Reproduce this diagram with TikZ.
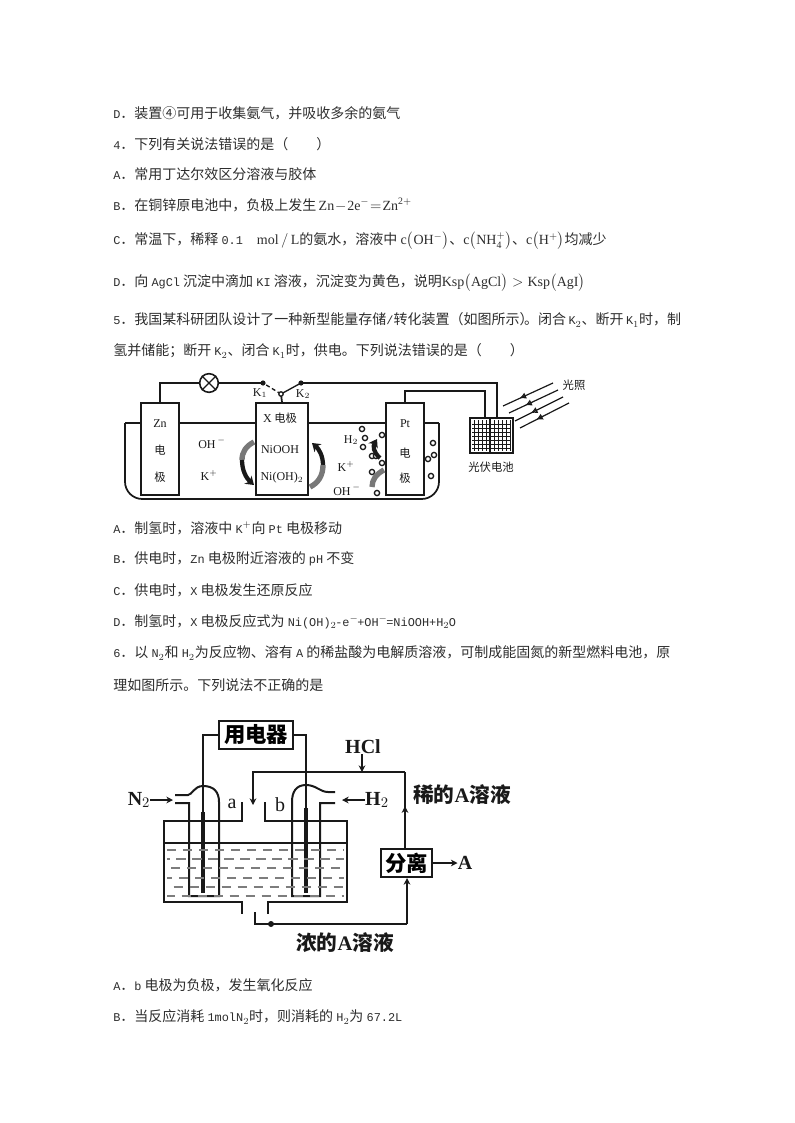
\documentclass[tikz,border=0pt]{standalone}
\usepackage{amsmath}
\usepackage{fontspec}
\setmainfont{Liberation Serif}
\newfontfamily\cjk{Noto Sans CJK SC}
\newfontfamily\lat{Liberation Mono}[Scale=0.85]
\definecolor{InkColor}{RGB}{25,25,25}
\definecolor{TextColor}{RGB}{45,45,45}
\definecolor{DashColor}{RGB}{125,125,125}
\definecolor{SwirlColor}{RGB}{120,120,120}
\usetikzlibrary{positioning, arrows.meta, decorations.markings}
\tikzstyle{textline} = [anchor=west, inner sep=0pt, text=TextColor, font=\cjk\fontsize{10.5}{12}\selectfont]
\tikzstyle{wire} = [line width=1.3pt, InkColor]
\tikzstyle{thinwire} = [line width=1pt, InkColor]
\tikzstyle{electrode} = [rectangle, draw=InkColor, line width=1.6pt, fill=white, minimum width=28.5pt, minimum height=68.5pt, inner sep=0pt]
\tikzstyle{smalltext} = [inner sep=0pt, text=InkColor, font=\fontsize{9}{10}\selectfont]
\tikzstyle{smallcjk} = [inner sep=0pt, text=InkColor, font=\cjk\fontsize{8.5}{10}\selectfont]
\tikzstyle{bubble} = [line width=1pt, InkColor, fill=white]
\tikzstyle{lightray} = [line width=0.9pt, InkColor, postaction={decorate}, decoration={markings, mark=at position 0.67 with {\arrow{Latex[open,length=5pt,width=5pt]}}}]
\tikzstyle{swirlblack} = [line width=3.2pt, InkColor, -{Stealth[length=6pt,width=8pt]}]
\tikzstyle{swirlgray} = [line width=4pt, SwirlColor]
\tikzstyle{heavywire} = [line width=1.5pt, InkColor]
\tikzstyle{flowarrow} = [line width=1.5pt, InkColor, -{Stealth[length=5pt,width=5pt]}]
\tikzstyle{midarrow} = [line width=1.5pt, InkColor, postaction={decorate}, decoration={markings, mark=at position 0.55 with {\arrow{Stealth[length=5pt,width=5pt]}}}]
\tikzstyle{boldcjk} = [inner sep=0pt, text=InkColor, font=\cjk\bfseries\fontsize{15.5}{17}\selectfont]
\tikzstyle{boldlat} = [inner sep=0pt, text=InkColor, font=\bfseries\fontsize{15}{17}\selectfont]
\tikzstyle{devbox} = [rectangle, draw=InkColor, line width=1.5pt, fill=white, inner sep=0pt, font=\cjk\bfseries\fontsize{16}{18}\selectfont]

\begin{document}
\begin{tikzpicture}[x=0.75pt, y=-0.75pt]
    \useasboundingbox (0,0) rectangle (794,1123);

    % Question text
    \node[textline] (lineA) at (113,113) {{\lat D}．装置④可用于收集氨气，并吸收多余的氨气};
    \node[textline] (lineB) at (113,144) {{\lat 4}．下列有关说法错误的是（\hspace{2em}）};
    \node[textline] (lineC) at (113,174) {{\lat A}．常用丁达尔效区分溶液与胶体};
    \node[textline, execute at begin node={\medmuskip=1mu\thickmuskip=1.5mu\scriptspace=0pt}] (lineD) at (113,205) {{\lat B}．在铜锌原电池中，负极上发生\,$\mathrm{Zn-2e^-=Zn^{2+}}$};
    \node[textline] (lineE) at (113,241) {{\lat C}．常温下，稀释 {\lat 0.1}\hspace{1em}$\mathrm{mol\,/\,L}$的氨水，溶液中 $\mathrm{c}\bigl(\mathrm{OH^-}\bigr)$、$\mathrm{c}\bigl(\mathrm{NH_4^+}\bigr)$、$\mathrm{c}\bigl(\mathrm{H^+}\bigr)$均减少};
    \node[textline] (lineF) at (113,283) {{\lat D}．向 {\lat AgCl} 沉淀中滴加 {\lat KI} 溶液，沉淀变为黄色，说明$\mathrm{Ksp}\bigl(\mathrm{AgCl}\bigr)>\mathrm{Ksp}\bigl(\mathrm{AgI}\bigr)$};
    \node[textline] (lineG) at (113,320) {{\lat 5}．我国某科研团队设计了一种新型能量存储{\lat /}转化装置（如图所示）\kern-7pt。闭合\,{\lat K}$_2$、断开\,{\lat K}$_1$时，制};
    \node[textline] (lineH) at (113,351) {氢并储能；断开 {\lat K}$_2$、闭合 {\lat K}$_1$时，供电。下列说法错误的是（\hspace{2em}）};
    \node[textline] (lineI) at (113,528) {{\lat A}．制氢时，溶液中 {\lat K}$^+$向 {\lat Pt} 电极移动};
    \node[textline] (lineJ) at (113,559) {{\lat B}．供电时，{\lat Zn} 电极附近溶液的 {\lat pH} 不变};
    \node[textline] (lineK) at (113,590) {{\lat C}．供电时，{\lat X} 电极发生还原反应};
    \node[textline] (lineL) at (113,622) {{\lat D}．制氢时，{\lat X} 电极反应式为 {\lat Ni(OH)}$_2$\kern-1pt{\lat -e}$^-$\kern-1pt{\lat +OH}$^-$\kern-1pt{\lat =NiOOH+H}$_2$\kern-0.5pt{\lat O}};
    \node[textline] (lineM) at (113,653) {{\lat 6}．以 {\lat N}$_2$和 {\lat H}$_2$为反应物、溶有 {\lat A} 的稀盐酸为电解质溶液，可制成能固氮的新型燃料电池，原};
    \node[textline] (lineN) at (113,685) {理如图所示。下列说法不正确的是};
    \node[textline] (lineO) at (113,985) {{\lat A}．{\lat b} 电极为负极，发生氧化反应};
    \node[textline] (lineP) at (113,1017) {{\lat B}．当反应消耗 {\lat 1molN}$_2$时，则消耗的 {\lat H}$_2$为 {\lat 67.2L}};

    % Storage cell: tank
    \draw[wire, rounded corners=13pt] (125,423) -- (125,499) -- (439,499) -- (439,423);
    \draw[thinwire] (125,423) -- (141,423);
    \draw[thinwire] (179,423) -- (256,423);
    \draw[thinwire] (308,423) -- (386,423);
    \draw[thinwire] (423,423) -- (439,423);

    % Electrodes
    \node[electrode] (zn) at (160,449) {};
    \node[electrode, minimum width=39pt] (xe) at (282,449) {};
    \node[electrode] (pt) at (405,449) {};
    \node[smalltext] (znname) at (160,424) {Zn};
    \node[smallcjk] (zndian) at (160,450) {电};
    \node[smallcjk] (znji) at (160,477) {极};
    \node[smallcjk] (xname) at (280,418) {{\fontsize{9}{10}\selectfont\rmfamily X} 电极};
    \node[smalltext] (niooh) at (280,450) {NiOOH};
    \node[smalltext] (niohtwo) at (282,478) {Ni(OH)$_2$};
    \node[smalltext] (ptname) at (405,424) {Pt};
    \node[smallcjk] (ptdian) at (405,453) {电};
    \node[smallcjk] (ptji) at (405,478) {极};
    \node[smalltext] (ohleft) at (212,443) {OH$^{\,-}$};
    \node[smalltext] (kleft) at (209,475) {K$^+$};
    \node[smalltext] (htwo) at (351,440) {H$_2$};
    \node[smalltext] (kright) at (346,466) {K$^+$};
    \node[smalltext] (ohright) at (347,490) {OH$^{\,-}$};

    % Circuit with lamp and switch
    \node[circle, draw=InkColor, line width=1.2pt, minimum size=14pt, inner sep=0pt, fill=white] (lamp) at (209,383) {};
    \draw[thinwire] (lamp.north west) -- (lamp.south east);
    \draw[thinwire] (lamp.north east) -- (lamp.south west);
    \coordinate (kone) at (263,383);
    \coordinate (ktwo) at (301,383);
    \coordinate (pivot) at (281,394);
    \coordinate (pvright) at (497,420);
    \coordinate (pvleft) at (485,420);
    \coordinate (ptup) at (405,391);
    \draw[wire] (zn.north) |- (lamp.west);
    \draw[wire] (lamp.east) -- (kone);
    \draw[wire] (ktwo) -| (pvright);
    \draw[wire] (pt.north) -- (ptup) -| (pvleft);
    \draw[wire] (pivot) -- (xe.north);
    \draw[thinwire] (pivot) -- (ktwo);
    \draw[thinwire, dashed, dash pattern=on 3pt off 2pt] (pivot) -- (kone);
    \fill[InkColor] (kone) circle (2.6);
    \fill[InkColor] (ktwo) circle (2.6);
    \draw[thinwire, fill=white] (pivot) circle (2.2);
    \node[smalltext] (konelabel) at (260,393) {K$_1$};
    \node[smalltext] (ktwolabel) at (303,394) {K$_2$};

    % Photovoltaic panel
    \node[rectangle, draw=InkColor, line width=1.4pt, minimum width=32pt, minimum height=26pt, inner sep=0pt, fill=white] (panel) at (491.5,435.5) {};
    \foreach \gx in {474,478,482,486,494,498,502,506,510}
        \draw[line width=0.5pt, InkColor] (\gx,420) -- (\gx,451);
    \foreach \gy in {424,428,432,436,440,444,448}
        \draw[line width=0.6pt, InkColor] (472,\gy) -- (511,\gy);
    \draw[thinwire] (490,419) -- (490,452);
    \node[smallcjk] (pvlabel) at (491,467) {光伏电池};
    \node[smallcjk] (lightlabel) at (574,385) {光照};
    \foreach \sx/\sy/\ex/\ey in {553/383/503/406, 558/390/509/413, 563/397/515/421, 569/403/520/428}
        \draw[lightray] (\sx,\sy) -- (\ex,\ey);

    % Bubbles near Pt
    \foreach \bx/\by in {362/429, 365/438, 363/447, 382/435, 372/456, 376/456, 382/463, 372/472, 377/493, 433/443, 434/455, 428/459, 431/476}
        \draw[bubble] (\bx,\by) circle (2.6);

    % Swirl arrows
    \draw[swirlgray] (254,442) .. controls (246,446) and (242,452) .. (242,460);
    \draw[swirlblack] (242,460) .. controls (242,470) and (246,478) .. (254,485);
    \draw[swirlblack] (323,465) .. controls (323,456) and (319,449) .. (312,443);
    \draw[swirlgray] (323,465) .. controls (323,476) and (318,483) .. (310,487);
    \draw[swirlblack] (380,458) .. controls (373,452) and (373,446) .. (377,439);
    \draw[swirlgray] (384,470) .. controls (376,474) and (372,480) .. (372,487);

    % Fuel cell: load and wires
    \node[devbox, minimum width=55pt, minimum height=21pt] (load) at (256,735) {用电器};
    \node[devbox, minimum width=38pt, minimum height=21pt] (sep) at (406.5,863) {分离};
    \coordinate (leftrod) at (203,893);
    \coordinate (rightrod) at (306,893);
    \draw[heavywire] (load.west) -| (leftrod);
    \draw[heavywire] (load.east) -| (rightrod);
    \draw[line width=2.8pt, InkColor] (203,812) -- (leftrod);
    \draw[line width=2.8pt, InkColor] (306,808) -- (rightrod);

    % Left gas tube
    \draw[heavywire] (175,795) -- (188,795) .. controls (192,795) and (194,786) .. (203,786) .. controls (214,786) and (219,792) .. (219,802) -- (219,896) -- (189,896) -- (189,803) -- (175,803);
    % Right gas tube
    \draw[heavywire] (335,792) -- (328,792) .. controls (320,792) and (316,785) .. (306,785) .. controls (296,785) and (292,792) .. (292,802) -- (292,896) -- (320,896) -- (320,803) -- (335,803);

    % Tank
    \draw[heavywire] (242,802) -- (242,821) -- (164,821) -- (164,902) -- (242,902) -- (242,914);
    \draw[heavywire] (265,802) -- (265,821) -- (347,821) -- (347,902) -- (268,902) -- (268,914);
    \draw[heavywire] (164,843) -- (347,843);
    \foreach \dy/\dp in {850/0, 859/5, 868/9, 878/3, 887/7, 896/1}
        \draw[line width=1pt, DashColor, dash pattern=on 7pt off 5pt, dash phase=\dp pt] (167,\dy) -- (344,\dy);
    \node[inner sep=0pt, text=InkColor, font=\fontsize{15}{17}\selectfont] (alabel) at (232,804) {a};
    \node[inner sep=0pt, text=InkColor, font=\fontsize{15}{17}\selectfont] (blabel) at (280,805) {b};

    % Flow labels
    \node[boldlat] (ntwo) at (139,800) {N$_2$};
    \node[boldlat] (htwoin) at (377,800) {H$_2$};
    \node[boldlat] (hcl) at (363,747) {HCl};
    \node[boldlat] (aout) at (465,863) {A};
    \node[boldcjk] (dilute) at (462,795) {稀的{\rmfamily A}溶液};
    \node[boldcjk] (dense) at (345,943) {浓的{\rmfamily A}溶液};

    % Flow arrows
    \coordinate (pipetl) at (253,772);
    \coordinate (pipetr) at (405,772);
    \coordinate (pipein) at (253,805);
    \coordinate (hclin) at (362,772);
    \coordinate (bottomr) at (407,924);
    \coordinate (bottoml) at (255,924);
    \coordinate (bottomup) at (255,912);
    \draw[flowarrow] (ntwo.east) -- (173,800);
    \draw[flowarrow] (htwoin.west) -- (342,800);
    \draw[flowarrow] (hcl.south) ++(-1,0) -- (hclin);
    \draw[flowarrow] (pipetr) -- (pipetl) -- (pipein);
    \draw[midarrow] (sep.north -| pipetr) -- (pipetr);
    \draw[flowarrow] (sep.east) -- (aout.west);
    \draw[flowarrow] (bottomr) -- (sep.south -| bottomr);
    \draw[heavywire] (bottomr) -- (bottoml) -- (bottomup);
    \fill[InkColor] (271,924) circle (3);
\end{tikzpicture}
\end{document}
